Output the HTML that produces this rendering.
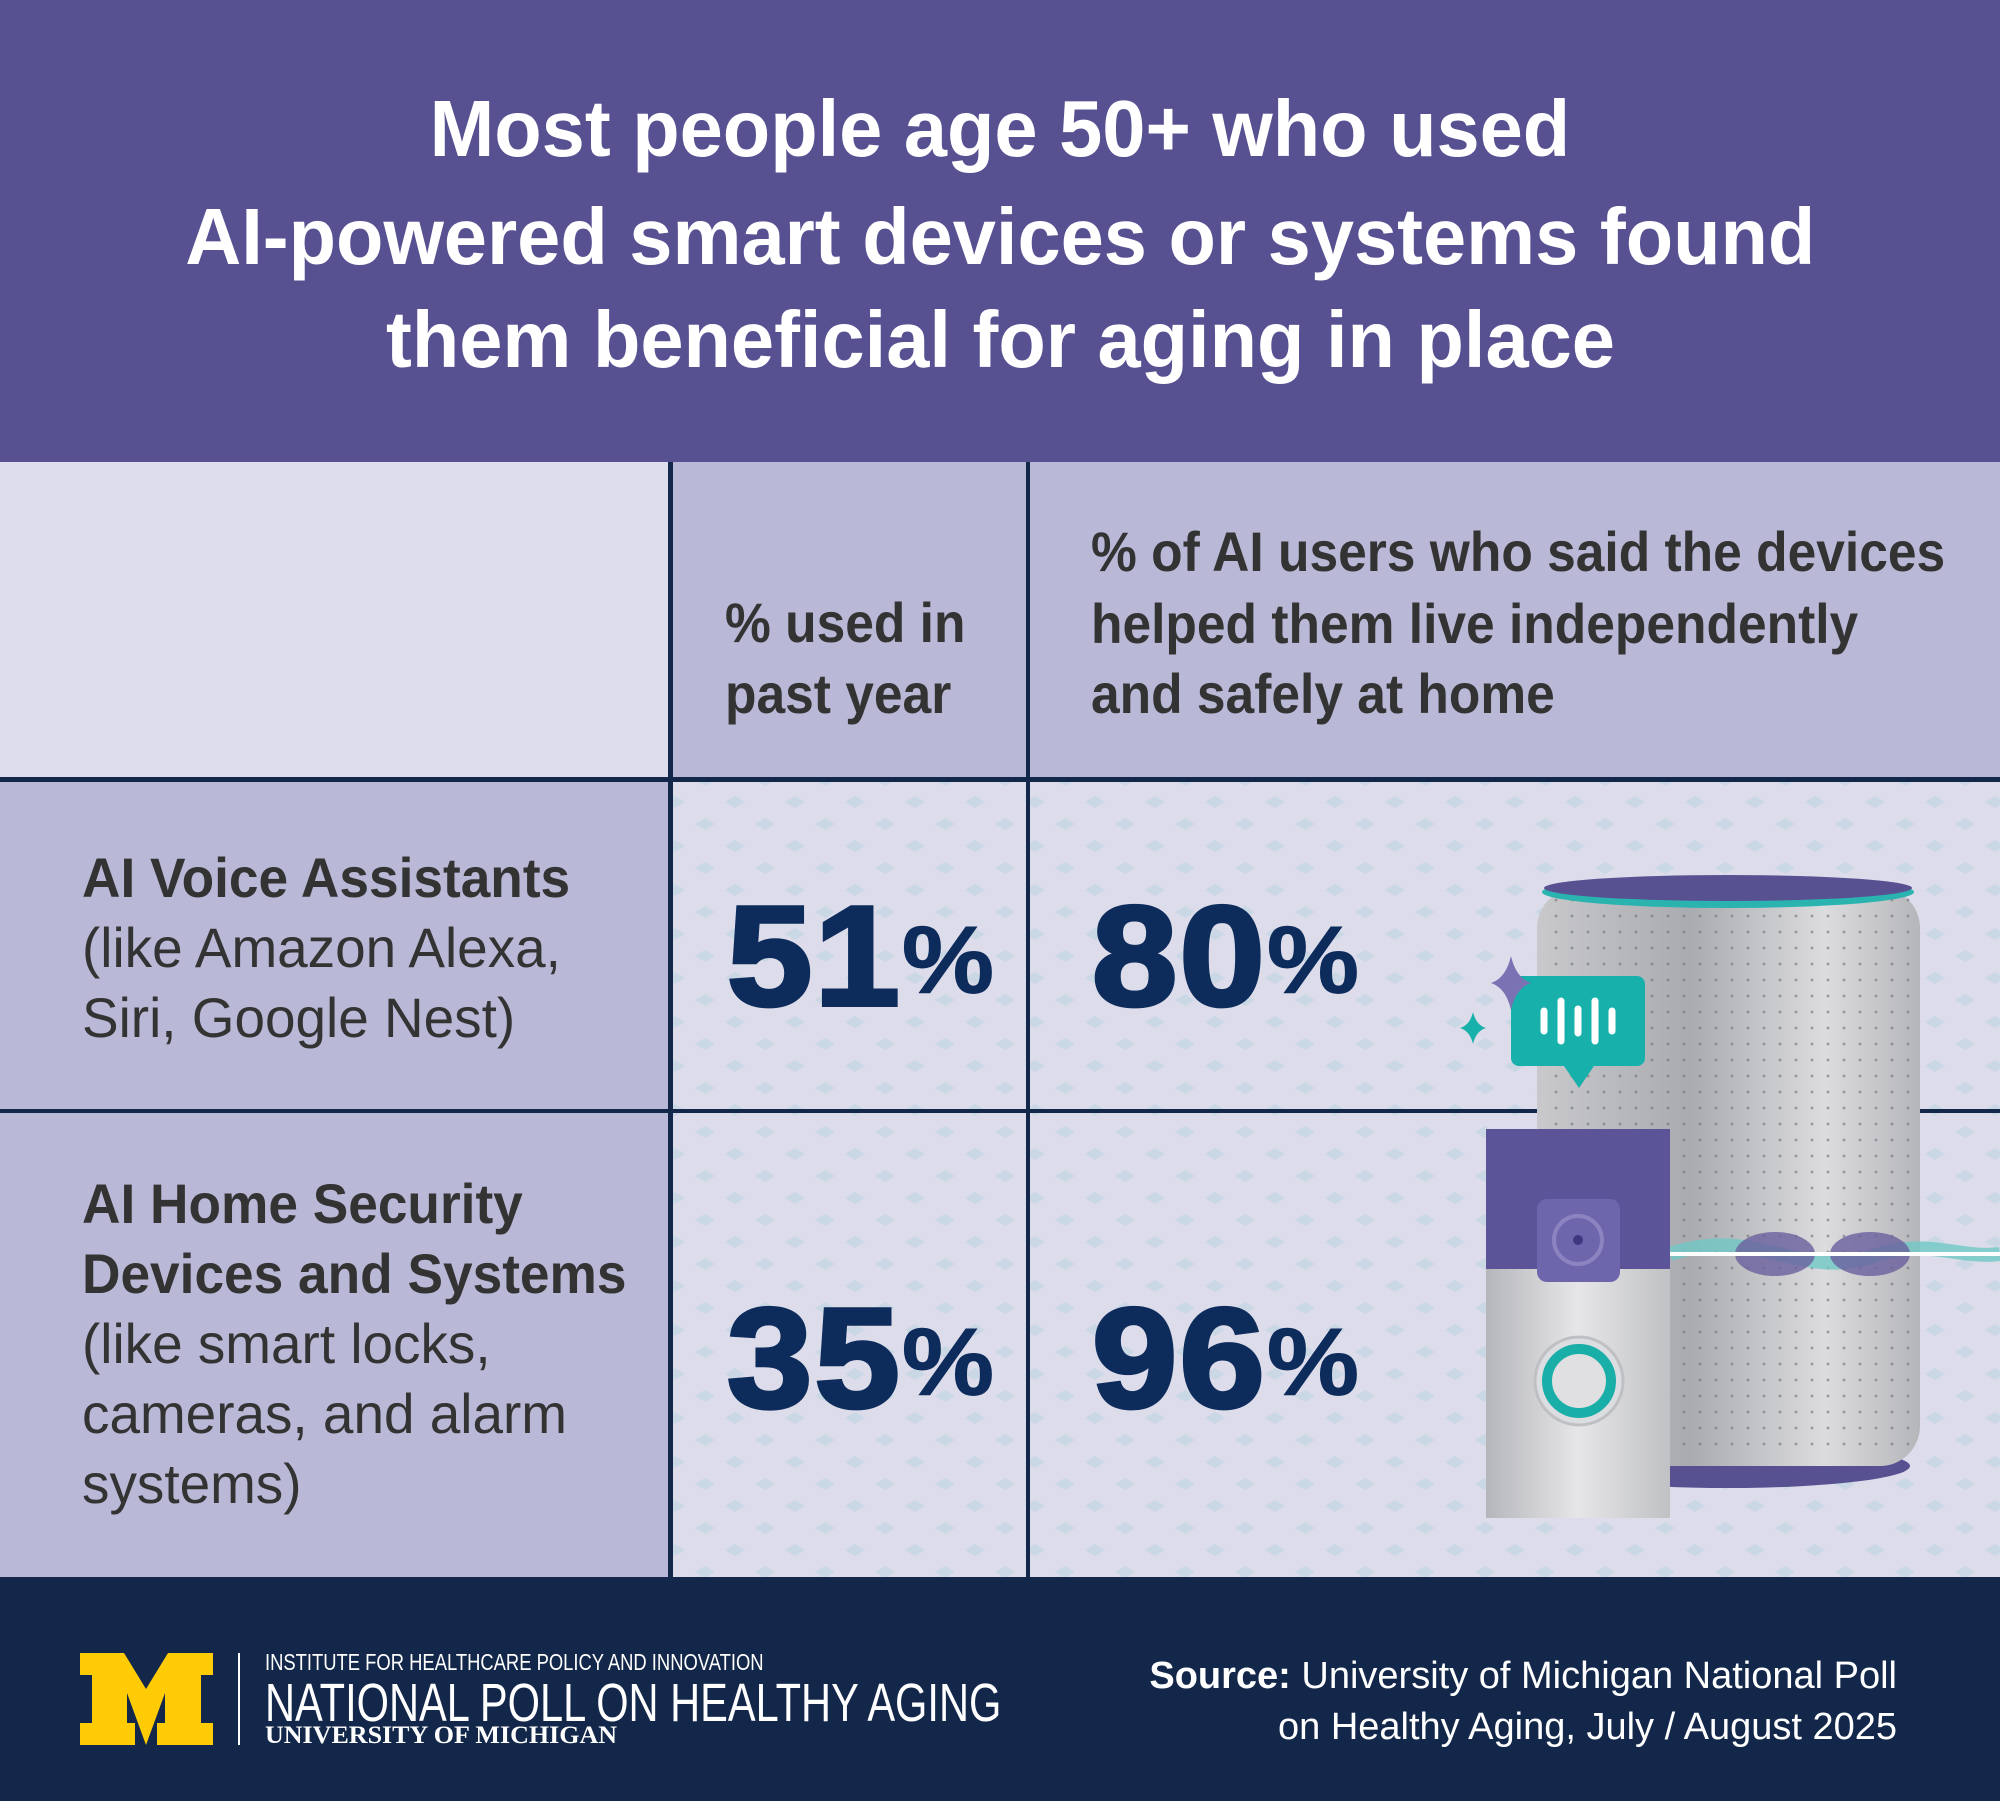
<!DOCTYPE html>
<html><head><meta charset="utf-8">
<style>
*{margin:0;padding:0}
body{width:2000px;height:1801px;position:relative;overflow:hidden;font-family:"Liberation Sans",sans-serif;background:#dcdcea}
.a{position:absolute;white-space:nowrap}
.t{color:#fff;font-weight:bold;font-size:80px;left:0;width:2000px;text-align:center}
.t span{display:inline-block;transform:scaleX(0.97)}
.h{color:#333;font-weight:bold;font-size:56px;transform-origin:0 50%;transform:scaleX(0.92);line-height:70px}
.r{color:#333;font-size:56px;line-height:70px;transform-origin:0 0;transform:scaleX(0.98)}
.r b{display:inline-block;transform-origin:0 0;transform:scaleX(0.97)}
.n{color:#0d2b5b;font-weight:bold;font-size:142px;line-height:142px;transform-origin:0 0;transform:scaleX(1.08);-webkit-text-stroke:4px #0d2b5b;letter-spacing:2px}
.n small{font-size:96px;vertical-align:top;position:relative;top:4px;margin-left:0;-webkit-text-stroke:1px #0d2b5b}
</style></head><body>
<svg class="a" style="left:0;top:0" width="2000" height="1801">
<defs>
<pattern id="p" width="60" height="44" patternUnits="userSpaceOnUse">
<path d="M15 4 l10 6 l-10 6 l-10 -6z M45 26 l10 6 l-10 6 l-10 -6z" fill="#c5d6e2" opacity="0.8"/>
</pattern>
<linearGradient id="g1" x1="0" x2="1"><stop offset="0" stop-color="#c9c9cc"/><stop offset="0.4" stop-color="#a9abb0"/><stop offset="0.75" stop-color="#dcdcde"/><stop offset="1" stop-color="#b5b6ba"/></linearGradient>
<linearGradient id="g2" x1="0" x2="1"><stop offset="0" stop-color="#b5b6ba"/><stop offset="0.5" stop-color="#e6e6e8"/><stop offset="1" stop-color="#c0c1c4"/></linearGradient>
<pattern id="d" width="16" height="16" patternUnits="userSpaceOnUse"><circle cx="4" cy="4" r="1.4" fill="#6b6d75"/></pattern>
</defs>
<rect x="0" y="0" width="2000" height="462" fill="#575192"/>
<rect x="0" y="462" width="670" height="317" fill="#dedded"/>
<rect x="670" y="462" width="1330" height="317" fill="#b9b8d6"/>
<rect x="0" y="779" width="670" height="798" fill="#b9b8d6"/>
<rect x="670" y="779" width="1330" height="798" fill="#dcdcea"/>
<rect x="670" y="779" width="1330" height="798" fill="url(#p)"/>
<rect x="0" y="777" width="2000" height="5" fill="#13274a"/>
<rect x="0" y="1109" width="2000" height="4" fill="#13274a"/>
<rect x="668" y="462" width="5" height="1115" fill="#13274a"/>
<rect x="1026" y="462" width="4" height="1115" fill="#13274a"/>
<rect x="0" y="1577" width="2000" height="224" fill="#13274a"/>
<ellipse cx="1728" cy="1466" rx="182" ry="22" fill="#575192"/>
<rect x="1537" y="888" width="383" height="578" rx="40" fill="url(#g1)"/>
<rect x="1547" y="898" width="363" height="560" fill="url(#d)" opacity="0.6"/>
<ellipse cx="1728" cy="892" rx="186" ry="16" fill="#2bb3b0"/>
<ellipse cx="1728" cy="888" rx="184" ry="13" fill="#575192"/>
<path d="M1670 1254 C1760 1224 1800 1284 1880 1254 C1930 1239 1960 1259 2000 1254" stroke="#6fc8c6" stroke-width="14" fill="none" opacity="0.8"/>
<ellipse cx="1775" cy="1254" rx="40" ry="22" fill="#6a5f9e" opacity="0.8"/>
<ellipse cx="1870" cy="1254" rx="40" ry="22" fill="#6a5f9e" opacity="0.8"/>
<path d="M1670 1254 L2000 1254" stroke="#fff" stroke-width="4"/>
<rect x="1511" y="976" width="134" height="90" rx="8" fill="#18b0aa"/>
<path d="M1564 1066 l15 22 l15 -22z" fill="#18b0aa"/>
<g stroke="#fff" stroke-width="7" stroke-linecap="round"><path d="M1544 1011v20M1561 1001v40M1578 1009v24M1595 1001v40M1612 1011v20"/></g>
<path d="M1511 1010 q5 -22 20 -27 q-15 -5 -20 -27 q-5 22 -20 27 q15 5 20 27z" fill="#7b72b3"/>
<path d="M1473 1044 q3 -13 13 -16 q-10 -3 -13 -16 q-3 13 -13 16 q10 3 13 16z" fill="#18b0aa"/>
<rect x="1486" y="1129" width="184" height="140" fill="#5b5498"/>
<rect x="1486" y="1269" width="184" height="249" fill="url(#g2)"/>
<rect x="1537" y="1199" width="83" height="83" rx="10" fill="#6e66ad"/>
<circle cx="1578" cy="1240" r="24" fill="none" stroke="#8c84c0" stroke-width="4"/>
<circle cx="1578" cy="1240" r="5" fill="#3f3780"/>
<circle cx="1579" cy="1381" r="44" fill="#dcdde0" stroke="#bfc0c4" stroke-width="3"/>
<circle cx="1579" cy="1381" r="32" fill="#e0e0e2" stroke="#19aea8" stroke-width="10"/>
<path d="M80 1653h44l22 36l22 -36h45v22h-12v48h12v22h-56v-22h8v-30l-19 52l-19 -52v30h8v22h-55v-22h12v-48h-12z" fill="#ffcb05"/>
<rect x="238" y="1653" width="2" height="92" fill="#fff"/>
</svg>
<div class="a t" style="top:83px"><span>Most people age 50+ who used</span></div>
<div class="a t" style="top:191px"><span>AI-powered smart devices or systems found</span></div>
<div class="a t" style="top:294px"><span>them beneficial for aging in place</span></div>
<div class="a h" style="left:725px;top:588px">% used in</div>
<div class="a h" style="left:725px;top:659px">past year</div>
<div class="a h" style="left:1091px;top:517px">% of AI users who said the devices</div>
<div class="a h" style="left:1091px;top:589px">helped them live independently</div>
<div class="a h" style="left:1091px;top:659px">and safely at home</div>
<div class="a r" style="left:82px;top:843px"><b>AI Voice Assistants</b><br>(like Amazon Alexa,<br>Siri, Google Nest)</div>
<div class="a r" style="left:82px;top:1169px"><b>AI Home Security<br>Devices and Systems</b><br>(like smart locks,<br>cameras, and alarm<br>systems)</div>
<div class="a n" style="left:727px;top:886px">51<small>%</small></div>
<div class="a n" style="left:1092px;top:886px">80<small>%</small></div>
<div class="a n" style="left:727px;top:1288px">35<small>%</small></div>
<div class="a n" style="left:1092px;top:1288px">96<small>%</small></div>
<div class="a" style="left:265px;top:1649px;color:#fff;font-size:23px;transform-origin:0 0;transform:scaleX(0.80)">INSTITUTE FOR HEALTHCARE POLICY AND INNOVATION</div>
<div class="a" style="left:265px;top:1672px;color:#fff;font-size:54px;transform-origin:0 0;transform:scaleX(0.77)">NATIONAL POLL ON HEALTHY AGING</div>
<div class="a" style="left:265px;top:1722px;color:#fff;font-size:25px;font-weight:bold;font-family:'Liberation Serif',serif;transform-origin:0 0;transform:scaleX(1.04)">UNIVERSITY OF MICHIGAN</div>
<div class="a" style="right:103px;top:1651px;color:#fff;font-size:38px;text-align:right;line-height:51px"><b>Source:</b> University of Michigan National Poll<br>on Healthy Aging, July / August 2025</div>
</body></html>
